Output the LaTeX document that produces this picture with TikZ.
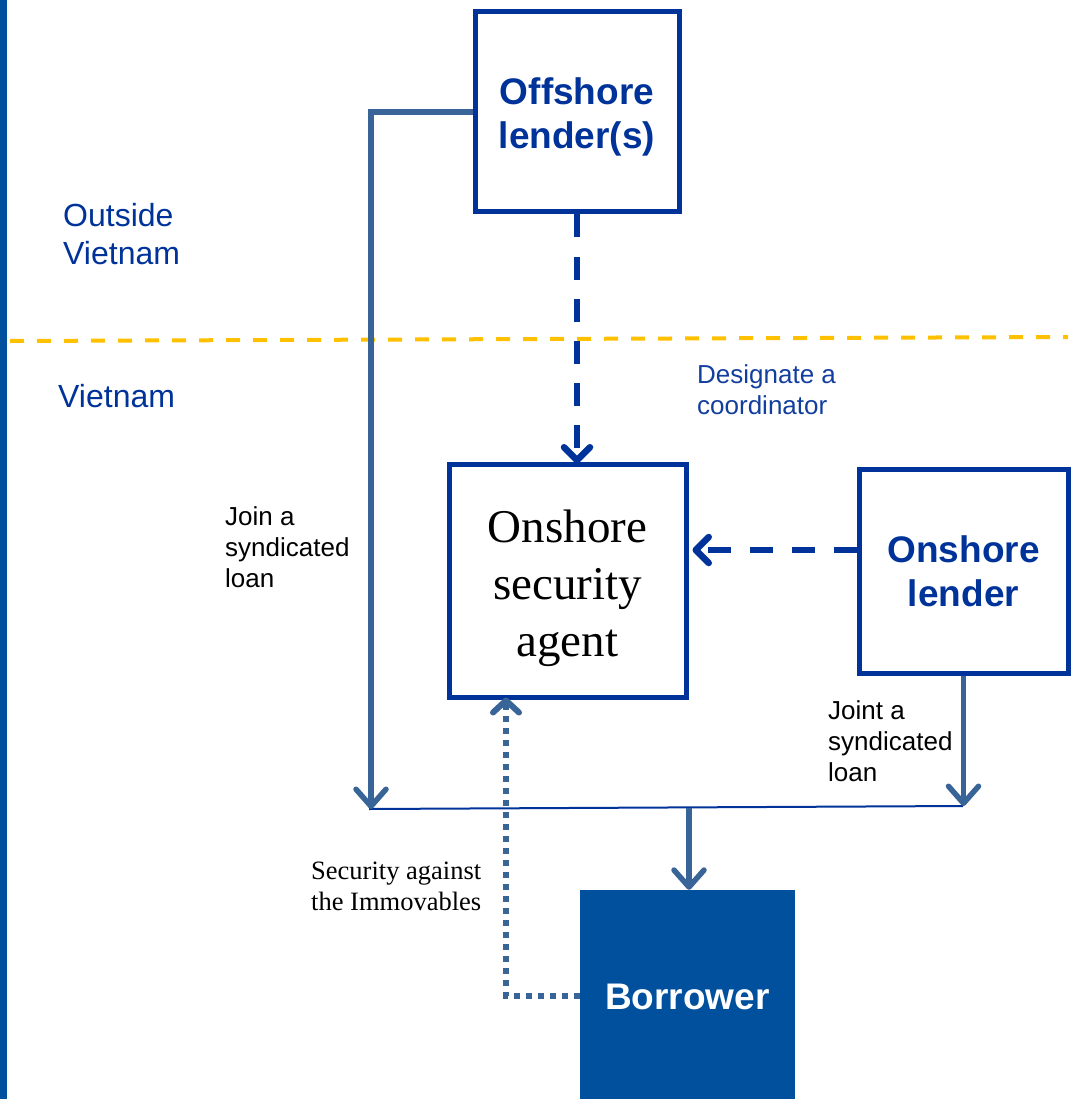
\documentclass[tikz,border=0pt]{standalone}
\usepackage{fontspec}
\setmainfont{Liberation Sans}
\newfontfamily\serifface{Liberation Serif}
\usetikzlibrary{arrows.meta}
\definecolor{boxblue}{RGB}{0,51,153}
\definecolor{linkblue}{RGB}{56,100,152}
\definecolor{fillblue}{RGB}{0,80,158}
\definecolor{labelblue}{RGB}{18,62,158}
\definecolor{borderyellow}{RGB}{255,192,0}
\tikzset{
  frame/.style={draw=boxblue, line width=5, fill=white, inner sep=0},
  party/.style={frame, align=center, text=boxblue,
    font=\bfseries\fontsize{37}{44}\selectfont},
  partytext/.style={align=center, inner sep=0, text=boxblue,
    font=\bfseries\fontsize{37}{44}\selectfont},
  agenttext/.style={align=center, inner sep=0,
    font=\serifface\fontsize{47}{57}\selectfont},
  borrowerbox/.style={fill=fillblue, inner sep=0, text=white,
    font=\bfseries\fontsize{37}{44}\selectfont},
  region/.style={text=boxblue, align=left, inner sep=0, anchor=west,
    font=\fontsize{32}{38}\selectfont},
  note/.style={align=left, inner sep=0, anchor=west,
    font=\fontsize{26}{31}\selectfont},
  loanflow/.style={draw=linkblue, line width=5.5,
    -{Straight Barb[length=17, width=30, round]}},
  designate/.style={draw=boxblue, line width=6.5, dash pattern=on 23 off 19,
    -{Straight Barb[length=13, width=26, round]}},
  securityflow/.style={draw=linkblue, line width=6, dash pattern=on 6 off 6,
    -{Straight Barb[length=12, width=26, round]}},
}
\begin{document}
\begin{tikzpicture}[x=1pt, y=-1pt]
  \useasboundingbox (0,0) rectangle (1072,1099);
  % side bar
  \fill[fillblue] (0,0) rectangle (7,1099);
  % border between the two jurisdictions
  \draw[borderyellow, line width=4, dash pattern=on 14 off 13] (10,341) -- (1068,337);

  % parties
  \node[frame, minimum width=204, minimum height=200] (off) at (577,112) {};
  \node[partytext] (offt) at (577,117) {Offshore\\lender(s)};
  \node[frame, minimum width=237, minimum height=233] (sec) at (567.5,580.5) {};
  \node[agenttext] (sect) at (567.5,588) {Onshore\\security\\agent};
  \node[party, minimum width=209, minimum height=204] (onl) at (963.5,571) {Onshore\\lender};
  \node[borrowerbox, minimum width=215, minimum height=214] (bor) at (687.5,997) {Borrower};

  % region labels
  \node[region] (outside) at (63,234) {Outside\\Vietnam};
  \node[region] (inside) at (58,396) {Vietnam};

  % syndicated loan bus
  \coordinate (jl) at (369,809);
  \coordinate (jr) at (963,806);
  \coordinate (jm) at (689,808);
  \draw[boxblue, line width=2] (jl) -- (jr);

  \draw[loanflow] (off.west) -| ([xshift=2]jl);
  \draw[loanflow] (onl.south) -- (onl.south |- jr);
  \draw[loanflow] (jm) -- (bor.north -| jm);

  % coordination
  \draw[designate] (off.south) -- ([yshift=-2]sec.north -| off.south);
  \draw[designate] ([yshift=21]onl.west) -- ([xshift=4,yshift=21]sec.east |- onl.west);

  % security
  \draw[securityflow] ([yshift=1]bor.west) -| ([xshift=-61.5, yshift=2]sec.south);

  % labels
  \node[note, text=labelblue] (desig) at (697,390) {Designate a\\coordinator};
  \node[note] (joinl) at (225,547) {Join a\\syndicated\\loan};
  \node[note] (joinr) at (828,741) {Joint a\\syndicated\\loan};
  \node[note, font=\serifface\fontsize{26.5}{31}\selectfont] (secl) at (311,886) {Security against\\the Immovables};
\end{tikzpicture}
\end{document}
